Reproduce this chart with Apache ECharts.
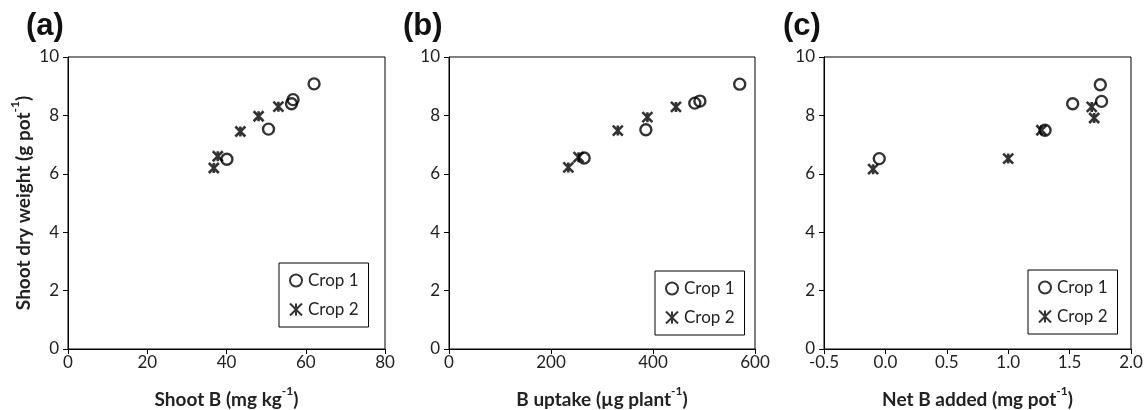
<!DOCTYPE html>
<html>
<head>
<meta charset="utf-8">
<script src="https://cdn.jsdelivr.net/npm/echarts@6/dist/echarts.min.js"></script>
<style>html,body{margin:0;padding:0;background:#fff}#c{width:1146px;height:410px}</style>
</head>
<body>
<div id="c"></div>
<script>
// Panel (a): Shoot B (mg/kg) vs shoot dry weight
const aCrop1X = [40.1, 50.6, 56.4, 56.8, 62.1];
const aCrop1Y = [6.50, 7.53, 8.40, 8.54, 9.08];
const aCrop2X = [36.8, 37.8, 43.5, 48.1, 53.1];
const aCrop2Y = [6.20, 6.60, 7.45, 7.97, 8.30];
// Panel (b): B uptake (µg/plant)
const bCrop1X = [265, 386, 482, 492, 570];
const bCrop1Y = [6.54, 7.51, 8.42, 8.49, 9.07];
const bCrop2X = [234, 254, 331, 389, 445];
const bCrop2Y = [6.22, 6.57, 7.48, 7.94, 8.29];
// Panel (c): Net B added (mg/pot)
const cCrop1X = [-0.05, 1.30, 1.525, 1.76, 1.75];
const cCrop1Y = [6.52, 7.49, 8.40, 8.48, 9.05];
const cCrop2X = [-0.10, 1.00, 1.27, 1.68, 1.70];
const cCrop2Y = [6.16, 6.52, 7.49, 8.29, 7.91];

const panelLabels = ['(a)', '(b)', '(c)'];
const xNames = [['Shoot B (mg kg', '-1', ')'], ['B uptake (\u00b5g plant', '-1', ')'], ['Net B added (mg pot', '-1', ')']];
const yName = ['Shoot dry weight (g pot', '-1', ')'];
const xRanges = [[0, 80, 20], [0, 600, 200], [-0.5, 2.0, 0.5]];
const yRange = [0, 10, 2];
const seriesNames = ['Crop 1', 'Crop 2'];

const FONT = 'Lato, "Open Sans", sans-serif';
const pairs = (xs, ys) => xs.map((x, i) => [x, ys[i]]);
const dataSets = [
  [pairs(aCrop1X, aCrop1Y), pairs(aCrop2X, aCrop2Y)],
  [pairs(bCrop1X, bCrop1Y), pairs(bCrop2X, bCrop2Y)],
  [pairs(cCrop1X, cCrop1Y), pairs(cCrop2X, cCrop2Y)]
];

const grids = [
  {left: 68, top: 57, width: 317, height: 292},
  {left: 449, top: 57, width: 306, height: 292},
  {left: 824, top: 57, width: 307, height: 292}
];
const legendPos = [{left: 279, top: 263}, {left: 655, top: 271}, {left: 1028, top: 270}];
const titlePos = [21, 398, 778];

const richName = {
  n: {fontFamily: FONT, fontWeight: 'bold', fontSize: 19, color: '#222', lineHeight: 24, verticalAlign: 'bottom'},
  s: {fontFamily: FONT, fontWeight: 'bold', fontSize: 12, color: '#222', lineHeight: 24, verticalAlign: 'top', padding: [0, 0, 8, 0]}
};
const fmtName = p => '{n|' + p[0] + '}{s|' + p[1] + '}{n|' + p[2] + '}';

const crossPath = 'path://M0,0L10,10M10,0L0,10M5,0L5,10';

const option = {
  animation: false,
  backgroundColor: '#fff',
  title: panelLabels.map((t, i) => ({
    text: t, left: titlePos[i], top: 6,
    textStyle: {fontFamily: '"Liberation Sans", Arial, sans-serif', fontWeight: 'bold', fontSize: 31, color: '#111'}
  })),
  grid: grids.map(g => Object.assign({show: true, borderColor: '#000', borderWidth: 1, backgroundColor: 'transparent',
    containLabel: false, outerBoundsMode: 'none'}, g)),
  legend: legendPos.map((p, i) => ({
    left: p.left, top: p.top, orient: 'vertical',
    data: seriesNames,
    borderColor: '#000', borderWidth: 1, padding: [9, 10, 9, 10],
    itemGap: 12, itemWidth: 12, itemHeight: 12,
    textStyle: {fontFamily: FONT, fontSize: 17, color: '#222', padding: [0, 0, 0, 1]},
    selectedMode: false
  })),
  xAxis: xRanges.map((r, i) => ({
    type: 'value', gridIndex: i, min: r[0], max: r[1], interval: r[2],
    name: fmtName(xNames[i]), nameLocation: 'middle', nameGap: 36,
    nameTextStyle: {rich: richName},
    axisLine: {show: true, onZero: false, lineStyle: {color: '#000', width: 1}},
    axisTick: {show: true, inside: false, length: 5, lineStyle: {color: '#000'}},
    axisLabel: {fontFamily: FONT, fontSize: 17, color: '#222', margin: 5,
      formatter: v => i === 2 ? v.toFixed(1) : String(v)},
    splitLine: {show: false}
  })),
  yAxis: [0, 1, 2].map(i => ({
    type: 'value', gridIndex: i, min: yRange[0], max: yRange[1], interval: yRange[2],
    name: i === 0 ? fmtName(yName) : '', nameLocation: 'middle', nameGap: 35, nameRotate: 90,
    nameTextStyle: {rich: richName},
    axisLine: {show: true, onZero: false, lineStyle: {color: '#000', width: 1}},
    axisTick: {show: true, inside: false, length: 5, lineStyle: {color: '#000'}},
    axisLabel: {fontFamily: FONT, fontSize: 17, color: '#222', margin: 9},
    splitLine: {show: false}
  })),
  series: []
};

dataSets.forEach((ds, i) => {
  option.series.push({
    name: seriesNames[0], type: 'scatter', xAxisIndex: i, yAxisIndex: i,
    symbol: 'circle', symbolSize: 11,
    itemStyle: {color: 'rgba(255,255,255,0)', borderColor: '#000', borderWidth: 2.4},
    data: ds[0]
  });
  option.series.push({
    name: seriesNames[1], type: 'scatter', xAxisIndex: i, yAxisIndex: i,
    symbol: crossPath, symbolSize: 10,
    itemStyle: {color: '#000', borderColor: '#000', borderWidth: 2.6},
    data: ds[1]
  });
});

const chart = echarts.init(document.getElementById('c'), null, {renderer: 'canvas'});
chart.setOption(option);
</script>
</body>
</html>
